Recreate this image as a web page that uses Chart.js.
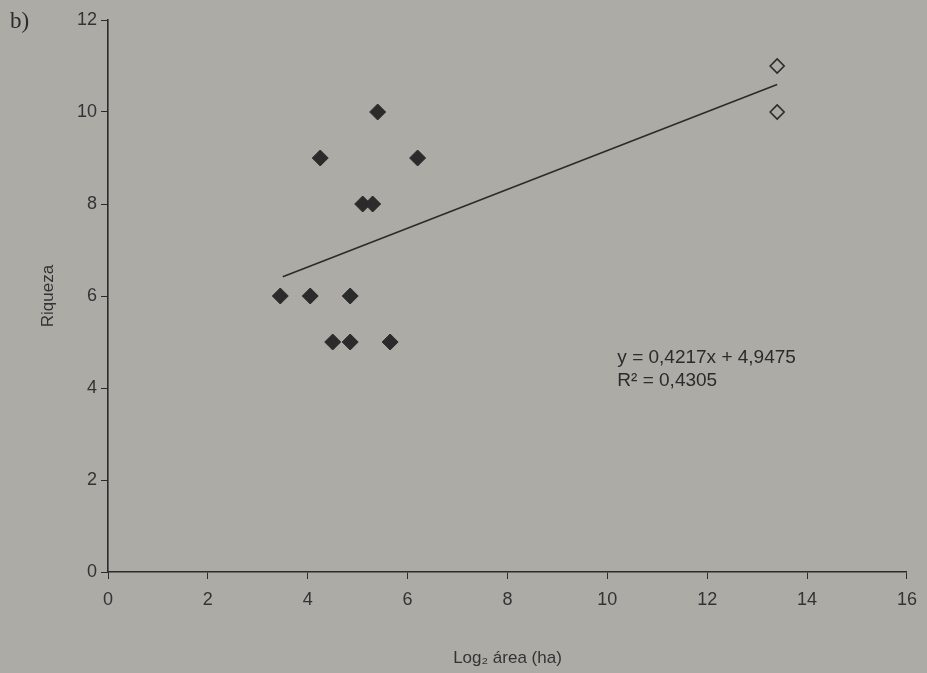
<!DOCTYPE html>
<html>
<head>
<meta charset="utf-8">
<script src="https://cdn.jsdelivr.net/npm/chart.js@4.4.1/dist/chart.umd.min.js"></script>
<style>
  html, body { margin: 0; padding: 0; background: #acaba6; }
  #wrap { width: 927px; height: 673px; position: relative; }
</style>
</head>
<body>
<div id="wrap"><canvas id="chart" width="927" height="673"></canvas></div>
<script>
// Remnants (filled diamonds)
const areaLog2 = [3.45, 4.05, 4.85, 4.25, 5.4, 6.2, 5.1, 5.3, 4.5, 4.85, 5.65];
const riqueza = [6, 6, 6, 9, 10, 9, 8, 8, 5, 5, 5];

// Continuous forest (open diamonds)
const contAreaLog2 = [13.4, 13.4];
const contRiqueza = [11, 10];

// Trend line ends
const trendX = [3.5, 13.4];
const trendY = [6.42, 10.6];

const xTicks = [0, 2, 4, 6, 8, 10, 12, 14, 16];
const yTicks = [0, 2, 4, 6, 8, 10, 12];

const ink = '#2b2b2b';
const font = 'Liberation Sans, Arial, sans-serif';

function toPoints(xs, ys) {
    return xs.map((x, i) => ({ x: x, y: ys[i] }));
}

// Panel letter and regression text
const labelsPlugin = {
    id: 'labels',
    afterDraw(chart) {
        const ctx = chart.ctx;
        const xs = chart.scales.x;
        const ys = chart.scales.y;
        ctx.save();
        ctx.fillStyle = ink;
        ctx.font = '23px "Liberation Serif", "DejaVu Serif", serif';
        ctx.textBaseline = 'middle';
        ctx.fillText('b)', 10, 22);

        ctx.font = '19px ' + font;
        const tx = xs.getPixelForValue(10.2);
        ctx.fillText('y = 0,4217x + 4,9475', tx, ys.getPixelForValue(4.65));
        ctx.fillText('R² = 0,4305', tx, ys.getPixelForValue(4.15));
        ctx.restore();
    }
};

const ctx = document.getElementById('chart').getContext('2d');
new Chart(ctx, {
    type: 'scatter',
    data: {
        datasets: [
            {
                label: 'Fragmentos',
                data: toPoints(areaLog2, riqueza),
                pointStyle: 'rectRot',
                pointRadius: 8,
                backgroundColor: ink,
                borderColor: ink,
                borderWidth: 1
            },
            {
                label: 'Contínuo',
                data: toPoints(contAreaLog2, contRiqueza),
                pointStyle: 'rectRot',
                pointRadius: 7,
                backgroundColor: 'rgba(0,0,0,0)',
                borderColor: ink,
                borderWidth: 1.6
            },
            {
                type: 'line',
                label: 'Tendência',
                data: toPoints(trendX, trendY),
                borderColor: ink,
                borderWidth: 1.6,
                pointRadius: 0,
                fill: false
            }
        ]
    },
    options: {
        responsive: false,
        animation: false,
        layout: {
            padding: { top: 20, right: 17, left: 0, bottom: 0 }
        },
        plugins: {
            legend: { display: false },
            tooltip: { enabled: false }
        },
        scales: {
            x: {
                type: 'linear',
                min: 0,
                max: 16,
                afterBuildTicks: (scale) => { scale.ticks = xTicks.map(v => ({ value: v })); },
                afterFit: (scale) => { scale.height = 101; },
                grid: { drawOnChartArea: false, drawTicks: true, tickLength: 7, color: ink },
                border: { color: ink, width: 1.6 },
                ticks: { color: '#333', font: { family: font, size: 18 }, padding: 10 },
                title: {
                    display: true,
                    text: 'Log₂ área (ha)',
                    color: '#333',
                    font: { family: font, size: 17 },
                    padding: { top: 6 }
                }
            },
            y: {
                type: 'linear',
                min: 0,
                max: 12,
                afterBuildTicks: (scale) => { scale.ticks = yTicks.map(v => ({ value: v })); },
                afterFit: (scale) => { scale.width = 108; },
                grid: { drawOnChartArea: false, drawTicks: true, tickLength: 7, color: ink },
                border: { color: ink, width: 1.6 },
                ticks: { color: '#333', font: { family: font, size: 18 }, padding: 4 },
                title: {
                    display: true,
                    text: 'Riqueza',
                    color: '#333',
                    font: { family: font, size: 17 },
                    padding: { top: 38, bottom: 0 }
                }
            }
        }
    },
    plugins: [labelsPlugin]
});
</script>
</body>
</html>
